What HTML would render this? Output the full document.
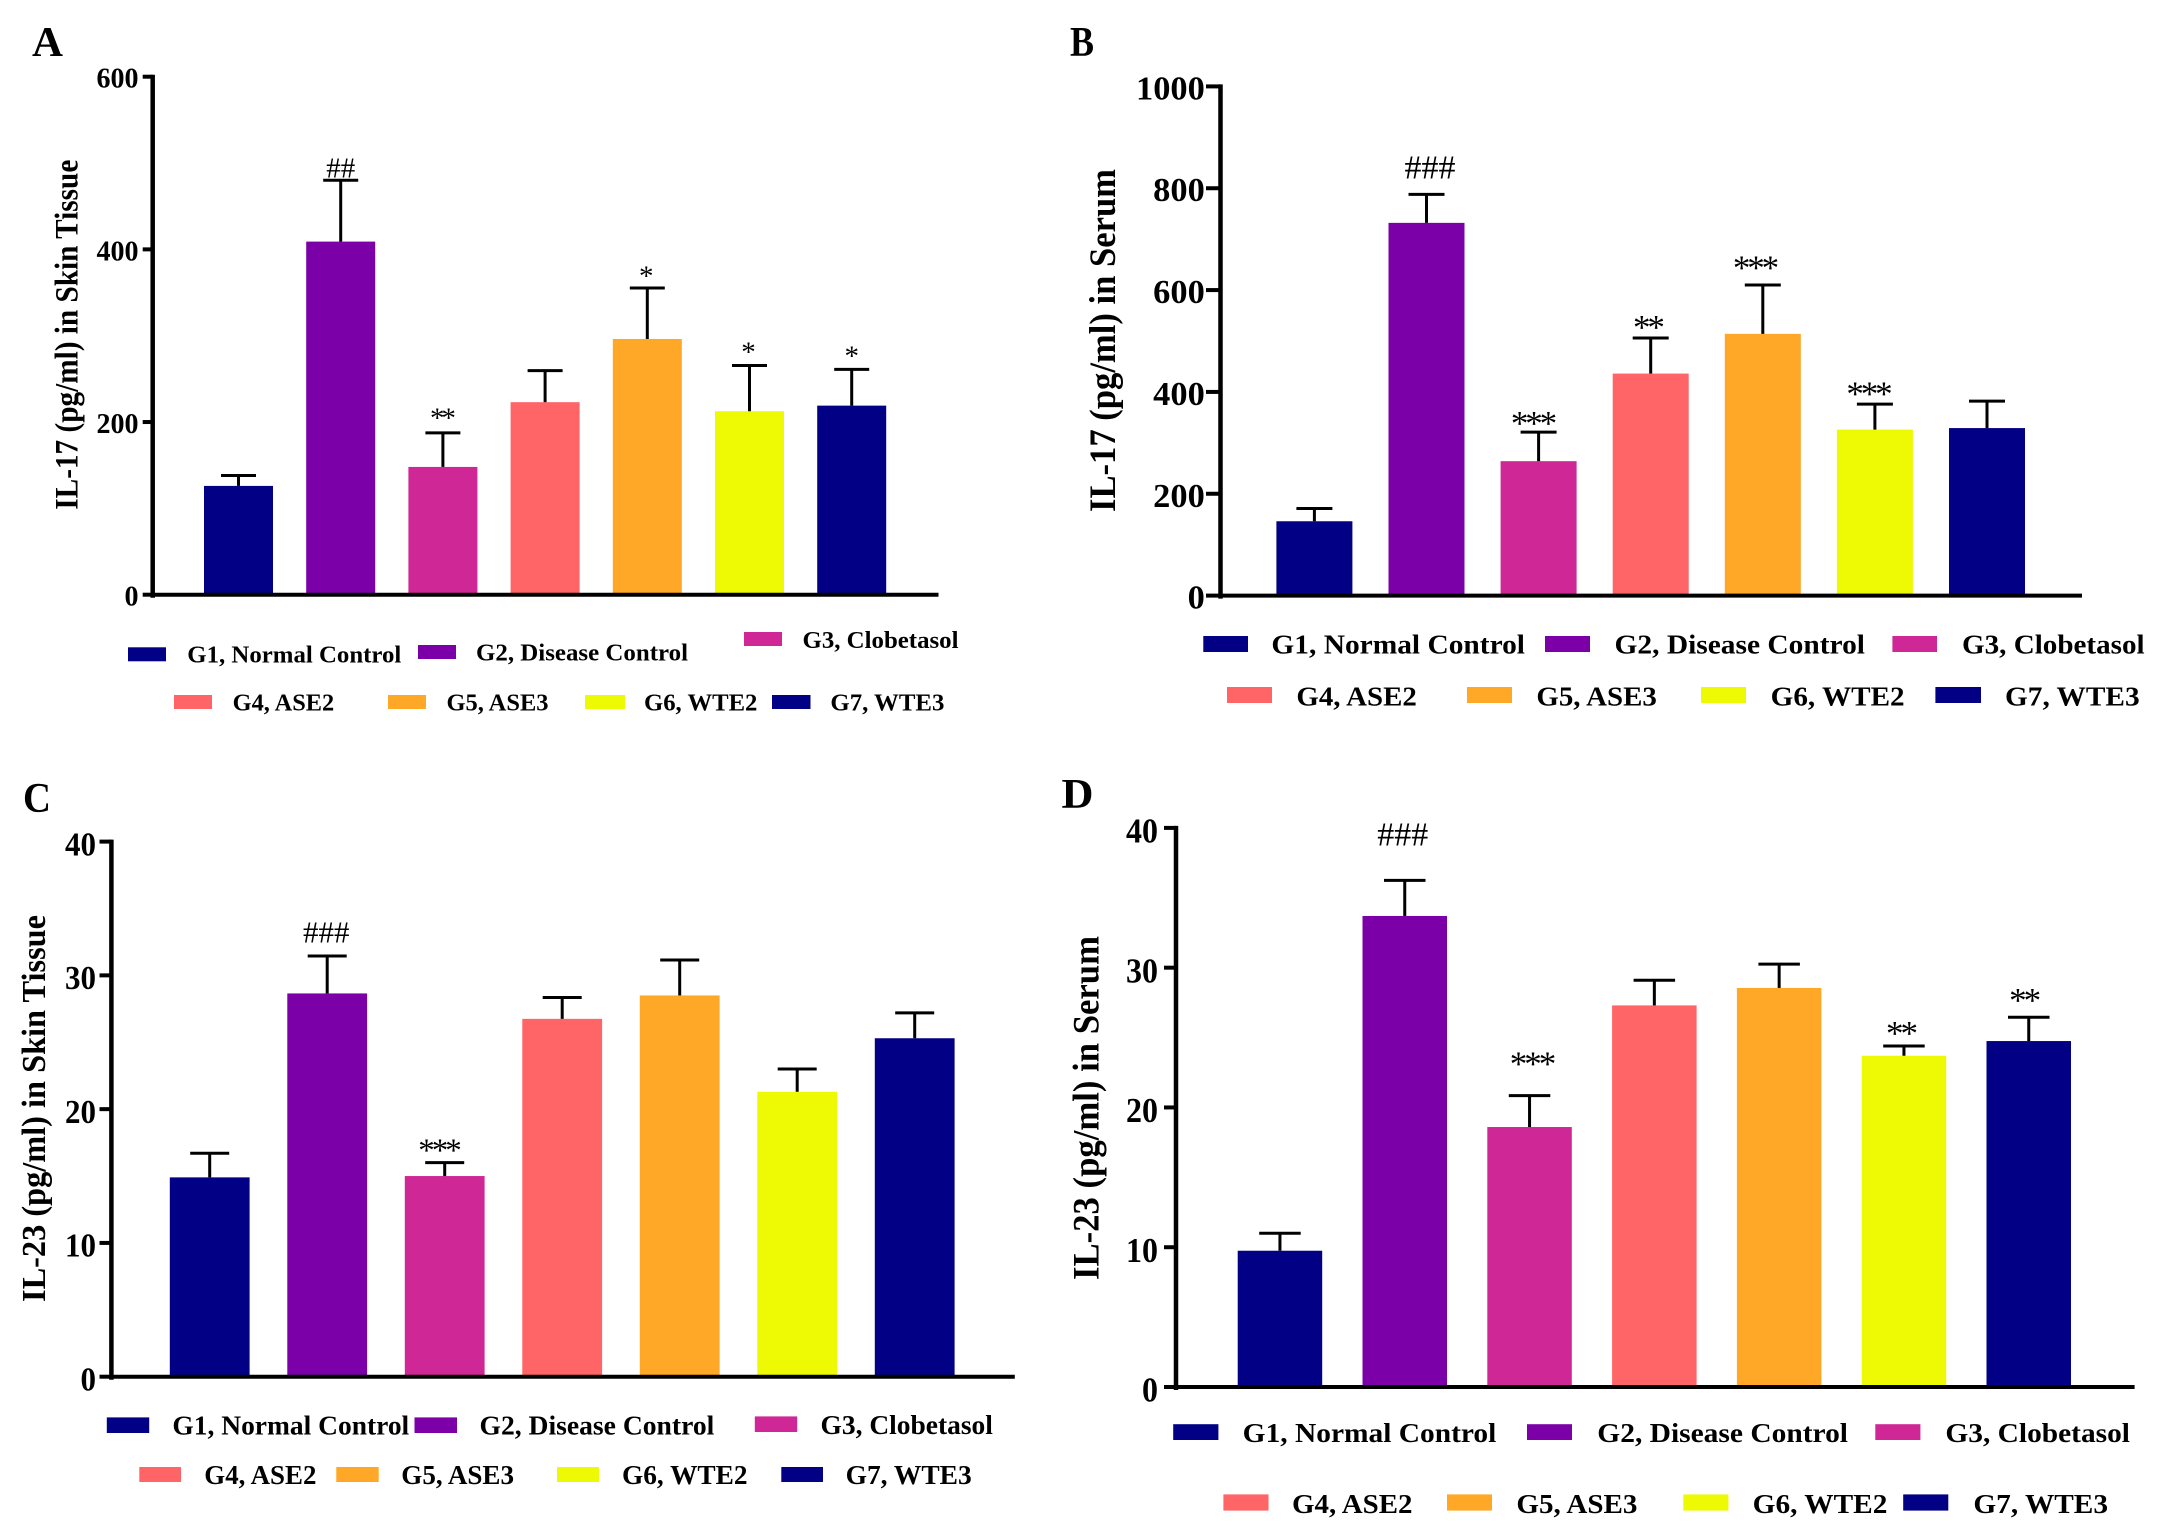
<!DOCTYPE html>
<html lang="en">
<head>
<meta charset="utf-8">
<title>IL-17 and IL-23 levels by treatment group</title>
<style>
html,body{margin:0;padding:0;background:#fff;}
svg{display:block;}
text{font-family:"Liberation Serif",serif;fill:#000;}
.leg{font-weight:bold;font-size:24px;}
.legB{font-weight:bold;font-size:27px;}
.letter{font-weight:bold;font-size:42px;}
</style>
</head>
<body>
<svg id="figure" xmlns="http://www.w3.org/2000/svg" width="2163" height="1539" viewBox="0 0 2163 1539">
<rect x="0" y="0" width="2163" height="1539" fill="#fff"/>

<g id="panel-a">
  <text class="letter" x="32" y="56" textLength="31" lengthAdjust="spacingAndGlyphs">A</text>
  <text transform="translate(77.6,509.7) rotate(-90)" font-size="33" font-weight="bold" textLength="350" lengthAdjust="spacingAndGlyphs">IL-17 (pg/ml) in Skin Tissue</text>
  <g>
    <g><rect x="128" y="647.3" width="38" height="14" fill="#020084"/><text class="leg" x="187.3" y="662.7" textLength="214" lengthAdjust="spacingAndGlyphs">G1, Normal Control</text></g>
    <g><rect x="418" y="645" width="38" height="14" fill="#7b00a8"/><text class="leg" x="476" y="660.7" textLength="212" lengthAdjust="spacingAndGlyphs">G2, Disease Control</text></g>
    <g><rect x="744" y="632" width="38" height="14" fill="#cf2896"/><text class="leg" x="802.5" y="648" textLength="156" lengthAdjust="spacingAndGlyphs">G3, Clobetasol</text></g>
    <g><rect x="174" y="695" width="38" height="14" fill="#ff6466"/><text class="leg" x="232.7" y="710.7" textLength="101.5" lengthAdjust="spacingAndGlyphs">G4, ASE2</text></g>
    <g><rect x="388" y="695" width="38" height="14" fill="#ffa726"/><text class="leg" x="446.5" y="710.7" textLength="102" lengthAdjust="spacingAndGlyphs">G5, ASE3</text></g>
    <g><rect x="585" y="695" width="40" height="14" fill="#edfa04"/><text class="leg" x="644" y="710.7" textLength="113.4" lengthAdjust="spacingAndGlyphs">G6, WTE2</text></g>
    <g><rect x="772" y="695" width="38.5" height="14" fill="#020084"/><text class="leg" x="830.4" y="710.7" textLength="114" lengthAdjust="spacingAndGlyphs">G7, WTE3</text></g>
  </g>
</g>

<g id="panel-b">
  <text class="letter" x="1070" y="56" textLength="24" lengthAdjust="spacingAndGlyphs">B</text>
  <text transform="translate(1115,512) rotate(-90)" font-size="37" font-weight="bold" textLength="343" lengthAdjust="spacingAndGlyphs">IL-17 (pg/ml) in Serum</text>
  <g>
    <g><rect x="1203.3" y="636" width="44.7" height="16" fill="#020084"/><text class="legB" x="1271.4" y="653.6" textLength="253.6" lengthAdjust="spacingAndGlyphs">G1, Normal Control</text></g>
    <g><rect x="1545" y="636" width="45" height="16" fill="#7b00a8"/><text class="legB" x="1614.5" y="653.6" textLength="250.5" lengthAdjust="spacingAndGlyphs">G2, Disease Control</text></g>
    <g><rect x="1892.4" y="636" width="44.6" height="16" fill="#cf2896"/><text class="legB" x="1962" y="653.6" textLength="182.6" lengthAdjust="spacingAndGlyphs">G3, Clobetasol</text></g>
    <g><rect x="1227" y="687" width="45" height="16" fill="#ff6466"/><text class="legB" x="1296.4" y="705.5" textLength="120.4" lengthAdjust="spacingAndGlyphs">G4, ASE2</text></g>
    <g><rect x="1467" y="687" width="45" height="16" fill="#ffa726"/><text class="legB" x="1536.4" y="705.5" textLength="120.4" lengthAdjust="spacingAndGlyphs">G5, ASE3</text></g>
    <g><rect x="1701" y="687" width="45" height="16" fill="#edfa04"/><text class="legB" x="1770.7" y="705.5" textLength="133.9" lengthAdjust="spacingAndGlyphs">G6, WTE2</text></g>
    <g><rect x="1935.4" y="687" width="45.6" height="16" fill="#020084"/><text class="legB" x="2005" y="705.5" textLength="134.6" lengthAdjust="spacingAndGlyphs">G7, WTE3</text></g>
  </g>
</g>

<g id="panel-c">
  <text class="letter" x="23" y="812.2" textLength="28" lengthAdjust="spacingAndGlyphs">C</text>
  <text transform="translate(45,1302) rotate(-90)" font-size="34" font-weight="bold" textLength="387" lengthAdjust="spacingAndGlyphs">IL-23 (pg/ml) in Skin Tissue</text>
  <g>
    <g><rect x="106.8" y="1417.4" width="42.4" height="15.6" fill="#020084"/><text class="legB" x="172.4" y="1434.5" textLength="236.8" lengthAdjust="spacingAndGlyphs">G1, Normal Control</text></g>
    <g><rect x="414.5" y="1417.4" width="42.5" height="15.6" fill="#7b00a8"/><text class="legB" x="479.5" y="1434.5" textLength="234.8" lengthAdjust="spacingAndGlyphs">G2, Disease Control</text></g>
    <g><rect x="754.8" y="1416.4" width="42.4" height="15.6" fill="#cf2896"/><text class="legB" x="820.5" y="1434" textLength="172.4" lengthAdjust="spacingAndGlyphs">G3, Clobetasol</text></g>
    <g><rect x="139.3" y="1467" width="41.7" height="15" fill="#ff6466"/><text class="legB" x="204.3" y="1484" textLength="112.1" lengthAdjust="spacingAndGlyphs">G4, ASE2</text></g>
    <g><rect x="336.3" y="1467" width="42.4" height="15" fill="#ffa726"/><text class="legB" x="401.3" y="1484" textLength="112.7" lengthAdjust="spacingAndGlyphs">G5, ASE3</text></g>
    <g><rect x="557" y="1467" width="42" height="15" fill="#edfa04"/><text class="legB" x="622" y="1484" textLength="125.5" lengthAdjust="spacingAndGlyphs">G6, WTE2</text></g>
    <g><rect x="781.3" y="1467" width="41.7" height="15" fill="#020084"/><text class="legB" x="845.6" y="1484" textLength="126.1" lengthAdjust="spacingAndGlyphs">G7, WTE3</text></g>
  </g>
</g>

<g id="panel-d">
  <text class="letter" x="1061.5" y="808" textLength="32" lengthAdjust="spacingAndGlyphs">D</text>
  <text transform="translate(1098.7,1280) rotate(-90)" font-size="37" font-weight="bold" textLength="344" lengthAdjust="spacingAndGlyphs">IL-23 (pg/ml) in Serum</text>
  <g>
    <g><rect x="1173.2" y="1424.2" width="45.2" height="15.8" fill="#020084"/><text class="legB" x="1242.7" y="1442" textLength="253.6" lengthAdjust="spacingAndGlyphs">G1, Normal Control</text></g>
    <g><rect x="1527" y="1424.2" width="45" height="15.8" fill="#7b00a8"/><text class="legB" x="1597.3" y="1442" textLength="250.7" lengthAdjust="spacingAndGlyphs">G2, Disease Control</text></g>
    <g><rect x="1875.3" y="1424.2" width="45.1" height="15.8" fill="#cf2896"/><text class="legB" x="1945.4" y="1442" textLength="184.6" lengthAdjust="spacingAndGlyphs">G3, Clobetasol</text></g>
    <g><rect x="1223.4" y="1494.4" width="45.1" height="16.2" fill="#ff6466"/><text class="legB" x="1292" y="1513" textLength="120.5" lengthAdjust="spacingAndGlyphs">G4, ASE2</text></g>
    <g><rect x="1447" y="1494.4" width="45" height="16.2" fill="#ffa726"/><text class="legB" x="1516.4" y="1513" textLength="121" lengthAdjust="spacingAndGlyphs">G5, ASE3</text></g>
    <g><rect x="1683.3" y="1494.4" width="45.1" height="16.2" fill="#edfa04"/><text class="legB" x="1752.7" y="1513" textLength="134.7" lengthAdjust="spacingAndGlyphs">G6, WTE2</text></g>
    <g><rect x="1903.2" y="1494.4" width="45.1" height="16.2" fill="#020084"/><text class="legB" x="1973.4" y="1513" textLength="134.6" lengthAdjust="spacingAndGlyphs">G7, WTE3</text></g>
  </g>
</g>

<script>
// ---- data ----
const categories = ["G1, Normal Control","G2, Disease Control","G3, Clobetasol","G4, ASE2","G5, ASE3","G6, WTE2","G7, WTE3"];

const valuesA = [126, 409, 148, 223, 296.2, 212.5, 219];
const errorsA = [12, 71, 39.5, 36.5, 59, 53, 42];
const ticksA = [0, 200, 400, 600];
const annotationsA = ["", "##", "**", "", "*", "*", "*"];

const valuesB = [146, 732, 264, 436, 514, 326, 329];
const errorsB = [25, 56, 57, 70, 96, 50, 53];
const ticksB = [0, 200, 400, 600, 800, 1000];
const annotationsB = ["", "###", "***", "**", "***", "***", ""];

const valuesC = [14.9, 28.65, 15.0, 26.75, 28.5, 21.3, 25.3];
const errorsC = [1.8, 2.8, 1.0, 1.6, 2.65, 1.7, 1.9];
const ticksC = [0, 10, 20, 30, 40];
const annotationsC = ["", "###", "***", "", "", "", ""];

const valuesD = [9.75, 33.7, 18.6, 27.3, 28.55, 23.7, 24.75];
const errorsD = [1.25, 2.55, 2.25, 1.8, 1.7, 0.7, 1.7];
const ticksD = [0, 10, 20, 30, 40];
const annotationsD = ["", "###", "***", "", "", "**", "**"];

const barColors = ["#020084","#7b00a8","#cf2896","#ff6466","#ffa726","#edfa04","#020084"];

// ---- layout (axis geometry and styling per panel) ----
const layoutA = {id:"panel-a",key:"a",axisX:152.7,base:594.7,top:76.7,tickLeft:142.7,axisEnd:938.5,firstBar:204,barW:69,pitch:102.2,capW:35,
  tickRight:138.5,tickFont:28,tickDigit:14,tickDrop:11,hashFont:29,starFont:29,starAdvance:11.4,
  annGap:[0,2.6,8,0,5.7,7,7],annDx:[0,0,0,0,-1,-1,0]};
const layoutB = {id:"panel-b",key:"b",axisX:1220.5,base:595.6,top:86.4,tickLeft:1206,axisEnd:2082,firstBar:1276.4,barW:76,pitch:112.1,capW:36,
  tickRight:1204.8,tickFont:34,tickDigit:17.2,tickDrop:13,hashFont:34,starFont:35,starAdvance:14.4,
  annGap:[0,16,0,2,8.6,1.4,0],annDx:[0,3.5,-4.6,-1.7,-6.8,-5.4,0]};
const layoutC = {id:"panel-c",key:"c",axisX:111.4,base:1376.7,top:841.6,tickLeft:99.5,axisEnd:1014.8,firstBar:169.8,barW:79.8,pitch:117.5,capW:39,
  tickRight:96,tickFont:34,tickDigit:15.5,tickDrop:13.7,hashFont:31,starFont:33,starAdvance:13.5,
  annGap:[0,13.4,4.4,0,0,0,0],annDx:[0,-1,-4.7,0,0,0,0]};
const layoutD = {id:"panel-d",key:"d",axisX:1176,base:1387,top:827.9,tickLeft:1164,axisEnd:2134.6,firstBar:1237.7,barW:84.5,pitch:124.8,capW:41.5,
  tickRight:1158,tickFont:35,tickDigit:16,tickDrop:14.7,hashFont:34,starFont:35,starAdvance:14.5,
  annGap:[0,35,22.7,0,0,3.7,8],annDx:[0,-2,3.4,0,0,-2,-3.6]};

const SVG_NS = "http://www.w3.org/2000/svg";

function make(parent, tag, attrs) {
  const el = document.createElementNS(SVG_NS, tag);
  for (const k in attrs) el.setAttribute(k, attrs[k]);
  parent.appendChild(el);
  return el;
}

function drawPanel(L, values, errors, ticks, annotations) {
  const root = document.getElementById(L.id);
  const maxTick = ticks[ticks.length - 1];
  const yScale = v => L.base - (v / maxTick) * (L.base - L.top);
  const xScale = i => L.firstBar + i * L.pitch;

  values.forEach((v, i) => {
    const g = make(root, "g", {});
    
    

    const bar = make(g, "rect", {x: xScale(i), y: yScale(v), width: L.barW, height: L.base - yScale(v), fill: barColors[i]});
    
    

    const cx = xScale(i) + L.barW / 2;
    const yErr = yScale(v + errors[i]);
    const stem = make(g, "line", {x1: cx, x2: cx, y1: yScale(v), y2: yErr, stroke: "#000", "stroke-width": 3});
    
    

    const cap = make(g, "line", {x1: cx - L.capW / 2, x2: cx + L.capW / 2, y1: yErr, y2: yErr, stroke: "#000", "stroke-width": 3});
    
    

    if (annotations[i]) {
      const isHash = annotations[i].charAt(0) === "#";
      const spacing = isHash ? 0 : L.starAdvance - L.starFont / 2;
      const drop = isHash ? 0 : (L.starFont - L.starAdvance * 2) * 0.47;
      const t = make(g, "text", {
        x: cx + L.annDx[i] + spacing / 2,
        y: yErr - L.annGap[i] + drop,
        "text-anchor": "middle",
        "letter-spacing": spacing,
        "font-size": isHash ? L.hashFont : L.starFont
      });
      t.textContent = annotations[i];
      
      
    }
  });

  const xAxis = make(root, "line", {x1: L.axisX - 2, x2: L.axisEnd, y1: L.base, y2: L.base, stroke: "#000", "stroke-width": 4});
  
  

  const yAxis = make(root, "line", {x1: L.axisX, x2: L.axisX, y1: L.top - 2, y2: L.base + 3, stroke: "#000", "stroke-width": 4.5});
  
  

  ticks.forEach(tick => {
    const mark = make(root, "line", {x1: L.tickLeft, x2: L.axisX, y1: yScale(tick), y2: yScale(tick), stroke: "#000", "stroke-width": 4});
    
    

    const label = String(tick);
    const w = label.length * L.tickDigit;
    const t = make(root, "text", {
      x: L.tickRight - w,
      y: yScale(tick) + L.tickDrop,
      "font-size": L.tickFont,
      "font-weight": "bold",
      textLength: w,
      lengthAdjust: "spacingAndGlyphs"
    });
    t.textContent = label;
    
    
  });
}

drawPanel(layoutA, valuesA, errorsA, ticksA, annotationsA);
drawPanel(layoutB, valuesB, errorsB, ticksB, annotationsB);
drawPanel(layoutC, valuesC, errorsC, ticksC, annotationsC);
drawPanel(layoutD, valuesD, errorsD, ticksD, annotationsD);
</script>
</svg>
</body>
</html>
